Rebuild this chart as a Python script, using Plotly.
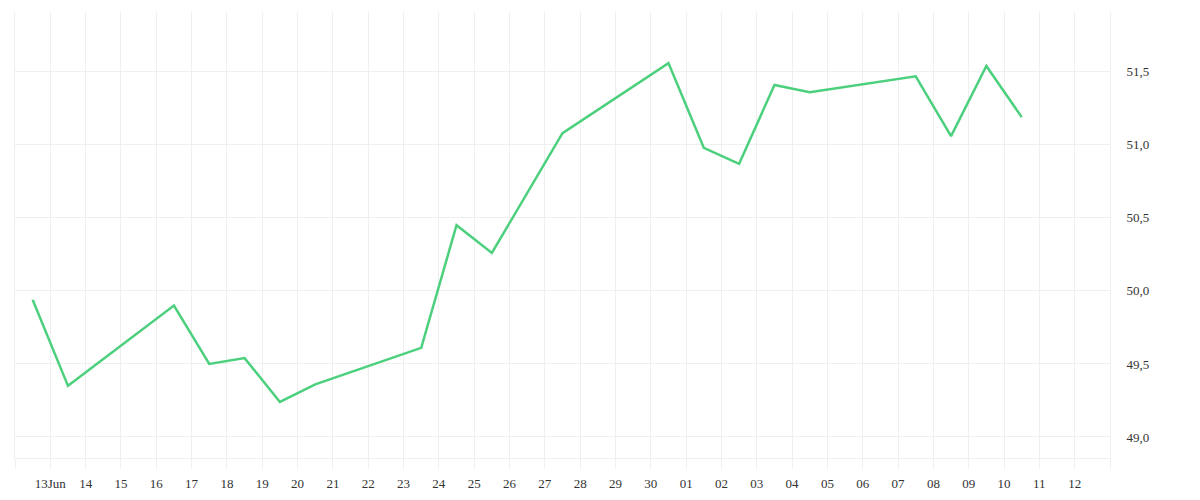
import pandas as pd
import plotly.graph_objects as go

# daily values, plotted at midday
dates = ["2023-06-12 12:00", "2023-06-13 12:00", "2023-06-16 12:00", "2023-06-17 12:00",
         "2023-06-18 12:00", "2023-06-19 12:00", "2023-06-20 12:00", "2023-06-23 12:00",
         "2023-06-24 12:00", "2023-06-25 12:00", "2023-06-27 12:00", "2023-06-30 12:00",
         "2023-07-01 12:00", "2023-07-02 12:00", "2023-07-03 12:00", "2023-07-04 12:00",
         "2023-07-07 12:00", "2023-07-08 12:00", "2023-07-09 12:00", "2023-07-10 12:00"]
values = [49.94, 49.35, 49.90, 49.50, 49.54, 49.24, 49.36, 49.61, 50.45, 50.26,
          51.08, 51.56, 50.98, 50.87, 51.41, 51.36, 51.47, 51.06, 51.54, 51.19]

tick_days = pd.date_range("2023-06-12", "2023-07-13", freq="D")
tick_text = []
for i, d in enumerate(tick_days):
    if i == 0 or i == len(tick_days) - 1:
        tick_text.append("")
    elif i == 1:
        tick_text.append(d.strftime("%d%b"))
    else:
        tick_text.append(d.strftime("%d"))

grid = "#efefef"
font = "Liberation Serif"

fig = go.Figure()
fig.add_trace(go.Scatter(x=pd.to_datetime(dates), y=values, mode="lines",
                         line=dict(color="#4cd07d", width=2.5), showlegend=False))

fig.update_layout(
    width=1200, height=500,
    margin=dict(l=7, r=98, t=4, b=50),
    plot_bgcolor="white", paper_bgcolor="white",
    separators=", ",
    font=dict(family=font, size=13, color="#333333"),
)
fig.update_xaxes(
    range=[tick_days[0], tick_days[-1]],
    tickvals=tick_days, ticktext=tick_text,
    showgrid=True, gridcolor=grid, gridwidth=1,
    showline=True, linecolor=grid, linewidth=1,
    ticks="outside", ticklen=10, tickcolor=grid, tickwidth=1,
    ticklabelstandoff=3, zeroline=False,
)
fig.update_yaxes(
    side="right", range=[48.856, 51.91],
    tickvals=[49.0, 49.5, 50.0, 50.5, 51.0, 51.5], tickformat=".1f",
    showgrid=True, gridcolor=grid, gridwidth=1,
    showline=True, mirror=True, linecolor=grid, linewidth=1,
    ticklabelstandoff=13, zeroline=False,
)

fig.write_html("out.html")
